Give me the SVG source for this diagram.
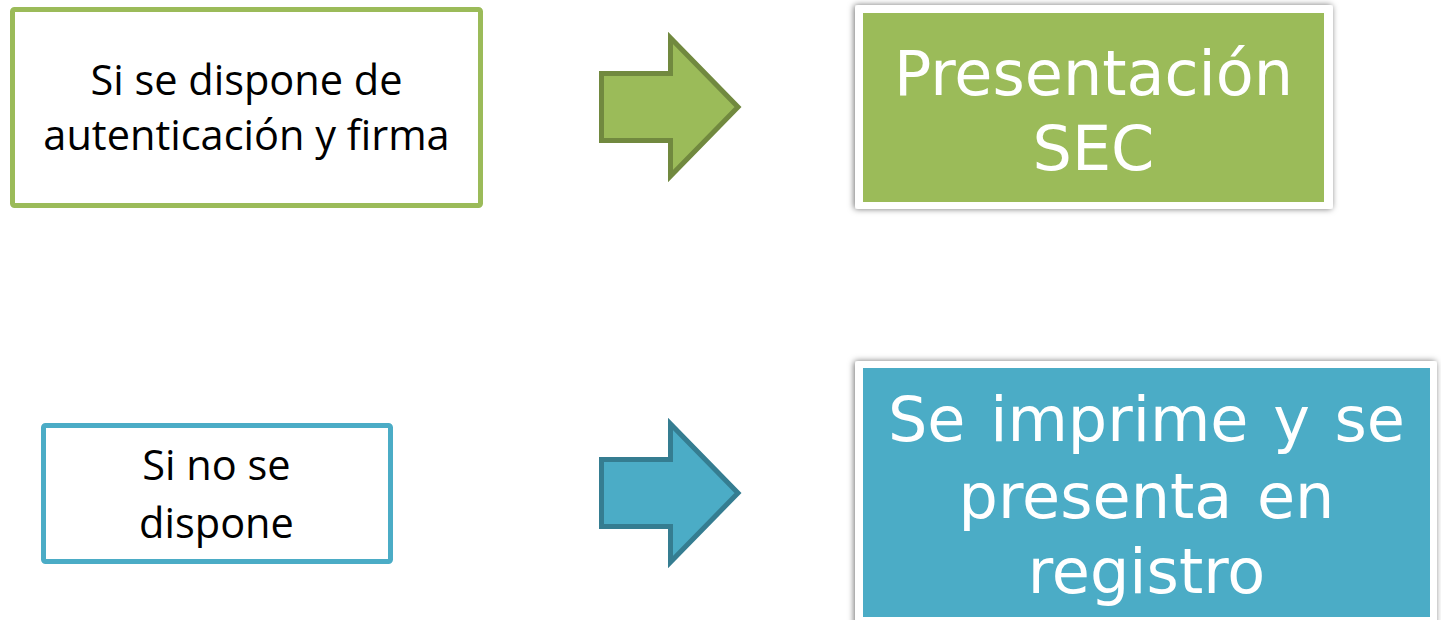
<svg xmlns="http://www.w3.org/2000/svg" width="1441" height="620" viewBox="0 0 1441 620">
  <style>
    .cond { fill: #FFFFFF; stroke-width: 5; }
    .condtxt { font-family: "Open Sans", "Liberation Sans", sans-serif; font-size: 41.5px; fill: #000000; text-anchor: middle; }
    .restxt { font-family: "DejaVu Sans", Verdana, sans-serif; font-size: 62px; fill: #FFFFFF; text-anchor: middle; word-spacing: 5px; }
    .frame { fill: #FFFFFF; filter: url(#shadow); }
    .green { fill: #9BBB59; }
    .blue { fill: #4BACC6; }
  </style>
  <defs>
    <filter id="shadow" x="-5%" y="-10%" width="110%" height="120%">
      <feDropShadow dx="-1" dy="0" stdDeviation="3" flood-color="#000000" flood-opacity="0.55"/>
    </filter>
  </defs>
  <rect width="1441" height="620" fill="#FFFFFF"/>

  <g id="cond1">
    <rect class="cond" x="12.5" y="9.5" width="468" height="196" rx="2" stroke="#9BBB59"/>
    <text class="condtxt" x="246.5" y="95">Si se dispone de</text>
    <text class="condtxt" x="246.5" y="150">autenticación y firma</text>
  </g>

  <g id="cond2">
    <rect class="cond" x="43.5" y="425.5" width="347" height="136" rx="2" stroke="#4BACC6"/>
    <text class="condtxt" x="216.5" y="480">Si no se</text>
    <text class="condtxt" x="216.5" y="538">dispone</text>
  </g>

  <g id="connectors">
    <polygon points="601.5,73.5 670.5,73.5 670.5,38 738,107 670.5,176 670.5,140.5 601.5,140.5" fill="#9BBB59" stroke="#71893F" stroke-width="5"/>
    <polygon points="601.5,459.5 670.5,459.5 670.5,424 738,493 670.5,562 670.5,526.5 601.5,526.5" fill="#4BACC6" stroke="#357D91" stroke-width="5"/>
  </g>

  <g id="res1">
    <rect class="frame" x="855" y="5" width="478" height="204" rx="3"/>
    <rect class="green" x="863" y="13" width="461" height="189"/>
    <text class="restxt" x="1093.5" y="95">Presentación</text>
    <text class="restxt" x="1093.5" y="170">SEC</text>
  </g>

  <g id="res2">
    <rect class="frame" x="855" y="361" width="582" height="270" rx="3"/>
    <rect class="blue" x="863" y="368" width="567" height="249"/>
    <text class="restxt" x="1146.5" y="441">Se imprime y se</text>
    <text class="restxt" x="1146.5" y="518">presenta en</text>
    <text class="restxt" x="1146.5" y="593">registro</text>
  </g>
</svg>
